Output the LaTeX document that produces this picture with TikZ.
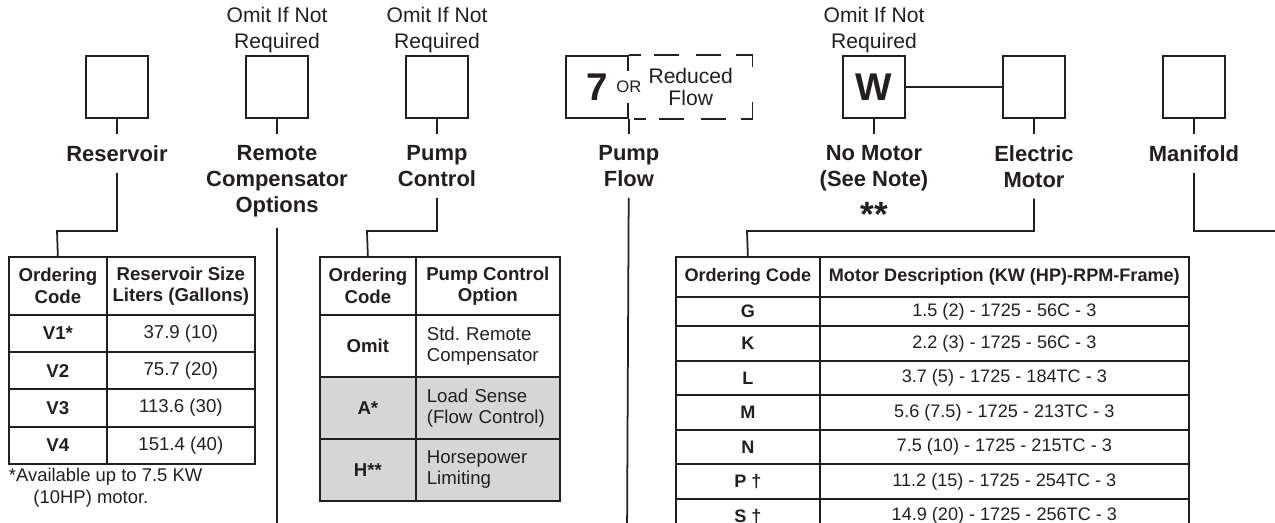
\documentclass[tikz,border=0pt]{standalone}
\usepackage{fontspec}
\setmainfont{Liberation Sans}
\usetikzlibrary{positioning}
\definecolor{ink}{RGB}{35,31,32}
\definecolor{shade}{RGB}{214,214,214}
\tikzset{
  box/.style={draw, minimum width=1.24cm, minimum height=1.24cm, inner sep=0pt},
  big/.style={font=\fontsize{22}{24}\selectfont\bfseries},
  omitnote/.style={font=\fontsize{12}{14.7}\selectfont, align=center, inner sep=1pt},
  lbl/.style={font=\fontsize{12.5}{14.7}\selectfont\bfseries, align=center, inner xsep=2pt, inner ysep=6pt},
  cell/.style={draw, anchor=north west, inner sep=0pt, align=center, font=\fontsize{10.6}{12}\selectfont},
  codecell/.style={cell, font=\fontsize{10.6}{12}\selectfont\bfseries},
  dashbox/.style={dash pattern=on .24cm off .26cm on .5cm off .34cm on .5cm off .3cm on .58cm off .7cm on .56cm off .3cm on .5cm off .34cm on .5cm off .26cm on .24cm},
}
\begin{document}
\begin{tikzpicture}[x=0.02cm, y=-0.02cm, line width=1pt, color=ink]
  \useasboundingbox (0,0) rectangle (1275,523);
  \clip (0,0) rectangle (1275,523);

  % code boxes
  \node[box] (res) at (117,87) {};
  \node[box] (rem) at (277,87) {};
  \node[box] (ctl) at (437,87) {};
  \node[box, big] (pf) at (597,87) {7\hspace{4pt}};
  \node[minimum width=2.44cm, minimum height=1.24cm, inner sep=0pt, right=0pt of pf,
        font=\fontsize{12}{13}\selectfont, align=center] (rf) {Reduced\\Flow};
  \draw[dashbox] (pf.north east) -- (rf.north east) -- (rf.south east) -- (pf.south east);
  \node[fill=white, inner xsep=1pt, inner ysep=0pt, minimum height=.64cm,
        font=\fontsize{9.5}{11}\selectfont] (or) at (pf.east) {OR};
  \node[box, big] (nomo) at (874,87) {W};
  \node[box] (elec) at (1034,87) {};
  \node[box] (man) at (1194,87) {};

  \node[omitnote, above=0pt of rem] (remo) {Omit If Not\\Required};
  \node[omitnote, above=0pt of ctl] (ctlo) {Omit If Not\\Required};
  \node[omitnote, above=0pt of nomo] (nomoo) {Omit If Not\\Required};

  % labels
  \node[lbl, below=.3cm of res] (resl) {Reservoir};
  \node[lbl, below=.3cm of rem] (reml) {Remote\\Compensator\\Options};
  \node[lbl, below=.3cm of ctl] (ctll) {Pump\\Control};
  \node[lbl, below=.3cm of pf.south east] (pfl) {Pump\\Flow};
  \node[lbl, below=.3cm of nomo] (nomol) {No Motor\\(See Note)\\\raisebox{-8.5pt}{\fontsize{20}{20}\selectfont **}};
  \node[lbl, below=.3cm of elec] (elecl) {Electric\\Motor};
  \node[lbl, below=.3cm of man] (manl) {Manifold};

  % reservoir table
  \node[codecell, minimum width=1.96cm, minimum height=1.16cm] (rh1) at (8,256) {Ordering\\Code};
  \node[codecell, minimum width=2.96cm, minimum height=1.16cm] (rh2) at (106,256) {Reservoir Size\\Liters (Gallons)};
  \foreach \code/\size [count=\i] in {V1*/37.9 (10), V2/75.7 (20), V3/113.6 (30), V4/151.4 (40)}
  {
    \node[codecell, minimum width=1.96cm, minimum height=.745cm] (rc\i) at (8,{314+(\i-1)*37.25}) {\code};
    \node[cell, minimum width=2.96cm, minimum height=.745cm] (rs\i) at (106,{314+(\i-1)*37.25}) {\size};
  }
  \node[anchor=north west, align=left, inner sep=0pt, font=\fontsize{10.5}{12.5}\selectfont] (resfn) at (8,467)
    {*Available up to 7.5 KW\\\hspace*{14pt}(10HP) motor.};

  % pump control table
  \node[codecell, minimum width=1.92cm, minimum height=1.16cm] (ph1) at (319,256) {Ordering\\Code};
  \node[codecell, minimum width=2.88cm, minimum height=1.16cm] (ph2) at (415,256) {Pump Control\\Option};
  \foreach \code/\opt/\tint [count=\i] in {Omit/Std.\ Remote\\Compensator/white, A*/Load Sense\\(Flow Control)/shade, H**/Horsepower\\Limiting/shade}
  {
    \node[codecell, fill=\tint, minimum width=1.92cm, minimum height=1.24cm] (po\i) at (319,{314+(\i-1)*62}) {\code};
    \node[cell, fill=\tint, align=left, text width=2.44cm, inner xsep=.22cm,
          minimum width=2.88cm, minimum height=1.24cm] (pd\i) at (415,{314+(\i-1)*62}) {\opt};
  }

  % motor table
  \begin{scope}[every node/.append style={font=\fontsize{10.3}{12}\selectfont}]
  \node[codecell, font=\fontsize{10.3}{12}\selectfont\bfseries, minimum width=2.88cm, minimum height=.8cm] (mh1) at (675,256) {Ordering Code};
  \node[codecell, font=\fontsize{10.3}{12}\selectfont\bfseries, minimum width=7.38cm, minimum height=.8cm] (mh2) at (819,256) {Motor Description (KW (HP)-RPM-Frame)};
  \foreach \code/\desc/\rowy/\rowh [count=\i] in {G/1.5 (2) - 1725 - 56C - 3/296/.59,
      K/2.2 (3) - 1725 - 56C - 3/325.5/.69, L/3.7 (5) - 1725 - 184TC - 3/360/.69,
      M/5.6 (7.5) - 1725 - 213TC - 3/394.5/.69, N/7.5 (10) - 1725 - 215TC - 3/429/.69,
      P \textdagger/11.2 (15) - 1725 - 254TC - 3/463.5/.69, S \textdagger/14.9 (20) - 1725 - 256TC - 3/498/.69}
  {
    \node[codecell, font=\fontsize{10.3}{12}\selectfont\bfseries, minimum width=2.88cm, minimum height=\rowh cm] (mc\i) at (675,\rowy) {\code};
    \node[cell, font=\fontsize{10.3}{12}\selectfont, minimum width=7.38cm, minimum height=\rowh cm] (md\i) at (819,\rowy) {\desc};
  }
  \end{scope}

  % connectors
  \coordinate (resk) at (57,231);
  \coordinate (ctlk) at (367,231);
  \coordinate (eleck) at (747,231);
  \coordinate (mank) at (1300,231);
  \coordinate (remend) at (277,540);
  \coordinate (pfend) at (627,540);
  \draw (res) -- (resl);
  \draw (rem) -- (reml);
  \draw (ctl) -- (ctll);
  \draw (pf.south east) -- (pfl);
  \draw (nomo) -- (nomol);
  \draw (elec) -- (elecl);
  \draw (man) -- (manl);
  \draw (nomo) -- (elec);
  \draw (resl) |- (resk) -- (rh1.north);
  \draw (ctll) |- (ctlk) -- (ph1.north);
  \draw (elecl) |- (eleck) -- (mh1.north);
  \draw (manl) |- (mank);
  \draw (reml) -- (remend);
  \draw (pfl) -- (pfend);
\end{tikzpicture}
\end{document}
